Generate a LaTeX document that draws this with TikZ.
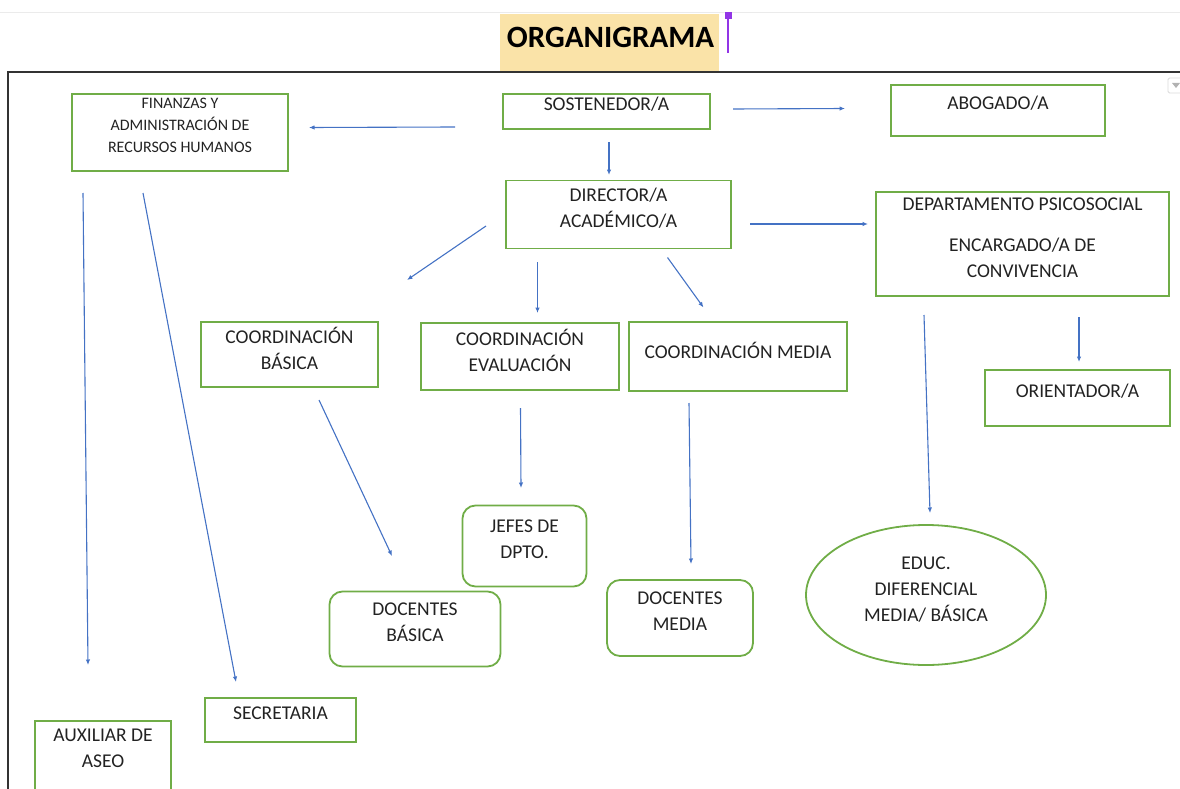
\documentclass[tikz,border=0pt]{standalone}
\usepackage{fontspec}
\setmainfont{Carlito}
\usetikzlibrary{arrows.meta,shapes.geometric}
\definecolor{gborder}{HTML}{70AD47}
\definecolor{arrowblue}{HTML}{4472C4}
\definecolor{hl}{HTML}{FAE3A8}
\definecolor{txtc}{HTML}{222222}
\definecolor{cursorc}{HTML}{9235E6}
\definecolor{framec}{HTML}{333333}
\begin{document}
\begin{tikzpicture}[x=1pt,y=-1pt,
  gbox/.style={draw=gborder, line width=1.8pt, inner sep=0pt, rectangle},
  rbox/.style={gbox, rounded corners=13pt},
  ebox/.style={draw=gborder, line width=1.8pt, inner sep=0pt, ellipse},
  txt/.style={font=\fontsize{19.5}{26}\selectfont, text=txtc, align=center, inner sep=0pt},
  smalltxt/.style={txt, font=\fontsize{16}{22}\selectfont},
  arr/.style={draw=arrowblue, line width=1.1pt, -{Latex[length=5.5pt,width=4.5pt]}}]
\useasboundingbox (0,0) rectangle (1180,789);
% page decorations
\draw[black!8, line width=0.8pt] (0,12) -- (1180,12);
\fill[hl] (500,14) rectangle (719,72);
\node[font=\bfseries\fontsize{31}{31}\selectfont, text=black, inner sep=0pt] (title) at (610.5,37) {ORGANIGRAMA};
\fill[cursorc] (726.8,14) rectangle (729,53);
\fill[cursorc] (725,12) rectangle (732,19);
\draw[framec, line width=1.4pt] (8,790) -- (8,72) -- (1181,72);
\draw[black!15, line width=0.8pt, rounded corners=1.5pt] (1168,78) rectangle (1186,93);
\fill[black!30] (1172,83) -- (1180,83) -- (1176,88) -- cycle;

% boxes
\node[gbox, minimum width=216pt, minimum height=77pt] (fin) at (180,132.5) {};
\node[smalltxt] (finT) at (180,125) {FINANZAS Y\\ADMINISTRACIÓN DE\\RECURSOS HUMANOS};
\node[gbox, minimum width=207pt, minimum height=35pt] (sost) at (606.5,111.5) {};
\node[txt] (sostT) at (606.5,104) {SOSTENEDOR/A};
\node[gbox, minimum width=214pt, minimum height=51pt] (abog) at (998,110.5) {};
\node[txt] (abogT) at (998,103) {ABOGADO/A};
\node[gbox, minimum width=225pt, minimum height=68pt] (dir) at (618.5,214.5) {};
\node[txt] (dirT) at (618.5,208) {DIRECTOR/A\\ACADÉMICO/A};
\node[gbox, minimum width=293pt, minimum height=104pt] (dept) at (1022.5,244) {};
\node[txt] (deptT1) at (1022.5,204) {DEPARTAMENTO PSICOSOCIAL};
\node[txt] (deptT2) at (1022.5,258) {ENCARGADO/A DE\\CONVIVENCIA};
\node[gbox, minimum width=177pt, minimum height=65pt] (cb) at (289.5,354.5) {};
\node[txt] (cbT) at (289.5,348) {COORDINACIÓN\\BÁSICA};
\node[gbox, minimum width=198pt, minimum height=67pt] (ce) at (520,356.5) {};
\node[txt] (ceT) at (520,350) {COORDINACIÓN\\EVALUACIÓN};
\node[gbox, minimum width=218pt, minimum height=69pt] (cm) at (738,356.5) {};
\node[txt] (cmT) at (738,350) {COORDINACIÓN MEDIA};
\node[gbox, minimum width=185pt, minimum height=56pt] (ori) at (1077.5,398) {};
\node[txt] (oriT) at (1077.5,391) {ORIENTADOR/A};
\node[rbox, minimum width=124pt, minimum height=81pt] (jefes) at (524.5,546) {};
\node[txt] (jefesT) at (524.5,539) {JEFES DE\\DPTO.};
\node[rbox, minimum width=171pt, minimum height=75pt] (db) at (415,629) {};
\node[txt] (dbT) at (415,622.5) {DOCENTES\\BÁSICA};
\node[rbox, minimum width=146pt, minimum height=76pt] (dm) at (680,618) {};
\node[txt] (dmT) at (680,611) {DOCENTES\\MEDIA};
\node[ebox, minimum width=240pt, minimum height=140pt] (ell) at (926,595) {};
\node[txt] (ellT) at (926,590) {EDUC.\\DIFERENCIAL\\MEDIA/ BÁSICA};
\node[gbox, minimum width=151pt, minimum height=44pt] (sec) at (280.5,720) {};
\node[txt] (secT) at (280.5,713) {SECRETARIA};
\node[gbox, minimum width=136pt, minimum height=76pt] (aux) at (103,759) {};
\node[txt] (auxT) at (103,748) {AUXILIAR DE\\ASEO};

% arrow end points
\coordinate (s1) at (455,127);   \coordinate (e1) at (309,127.5);
\coordinate (s2) at (733,109);   \coordinate (e2) at (845,108.5);
\coordinate (s3) at (609,142);   \coordinate (e3) at (609,175);
\coordinate (s4) at (750,224);   \coordinate (e4) at (868,224);
\coordinate (s5) at (486,226);   \coordinate (e5) at (407,280);
\coordinate (s6) at (537.5,262); \coordinate (e6) at (537.5,313);
\coordinate (s7) at (667.5,257.5); \coordinate (e7) at (703.5,307.5);
\coordinate (s8) at (1079,317);  \coordinate (e8) at (1079,362);
\coordinate (s9) at (924,315);   \coordinate (e9) at (930,513);
\coordinate (s10) at (319,400);  \coordinate (e10) at (392,556);
\coordinate (s11) at (520.5,408); \coordinate (e11) at (521,488);
\coordinate (s12) at (689,403);  \coordinate (e12) at (691,564);
\coordinate (s13) at (83,193);   \coordinate (e13) at (88,665);
\coordinate (s14) at (143,193);  \coordinate (e14) at (236,682);

\foreach \i in {1,...,14} \draw[arr] (s\i) -- (e\i);
\end{tikzpicture}
\end{document}
